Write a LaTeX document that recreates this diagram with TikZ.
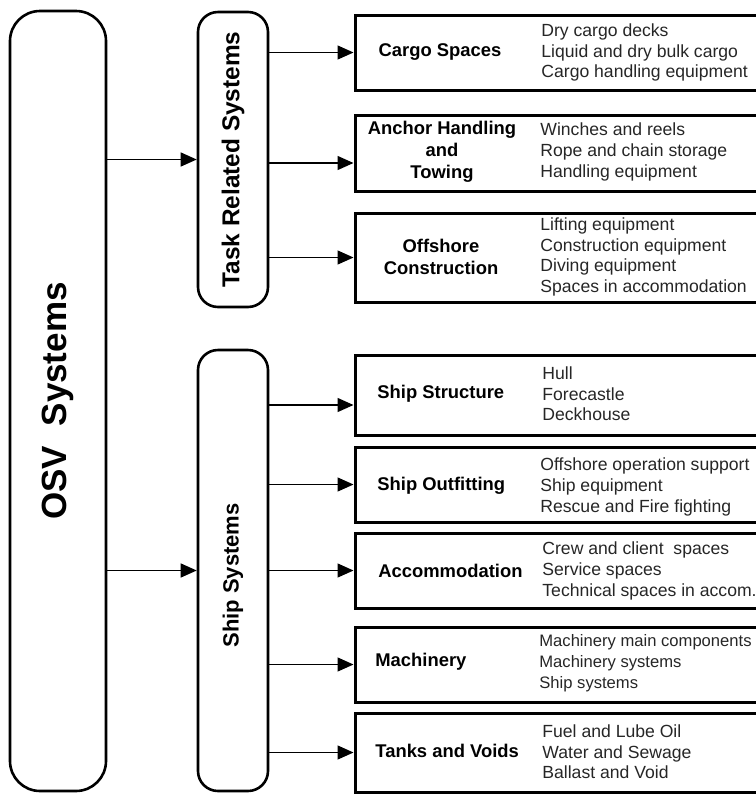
\documentclass[tikz,border=0pt]{standalone}
\usepackage{fontspec}
\setmainfont{Liberation Sans}
\usetikzlibrary{arrows.meta}

\begin{document}
\begin{tikzpicture}[x=0.5pt, y=-0.5pt,
        group/.style={draw, line width=1.3pt, rounded corners=10pt, minimum width=35pt, inner sep=0pt},
        part/.style={draw, line width=1.5pt, minimum width=207.5pt, inner sep=0pt},
        title/.style={font=\fontsize{9.2}{11}\selectfont\bfseries, align=center, inner sep=0pt},
        items/.style={font=\fontsize{8.8}{10.3}\selectfont, align=left, anchor=west, inner sep=0pt, text=black!85},
        arr/.style={-{Triangle[length=8pt, width=7pt]}, line width=0.7pt}]
        \useasboundingbox (0,0) rectangle (756,794);

        % main groups
        \node[draw, line width=1.3pt, rounded corners=15pt, minimum width=48pt, minimum height=390pt] (osv) at (58,401) {};
        \node[rotate=90, font=\fontsize{17.5}{20}\selectfont\bfseries] (osv-label) at (osv) {OSV~~Systems};
        \node[group, minimum height=147.5pt] (task) at (233,159.5) {};
        \node[rotate=90, font=\fontsize{12.2}{14}\selectfont\bfseries] (task-label) at (task) {Task Related Systems};
        \node[group, minimum height=220.5pt] (ship) at (233,570.5) {};
        \node[rotate=90, font=\fontsize{11}{13}\selectfont\bfseries] (ship-label) at ([yshift=-2.5pt]ship.center) {Ship Systems};

        % sub-system boxes
        \foreach \name/\y/\h in {cargo/52.5/37.5, anchor/153/38, offshore/257.5/44.5,
            structure/395/40, outfitting/484.5/37.5, accom/570.5/37.5, machinery/664.5/37.5, tanks/752.5/39.5}
            \node[part, minimum height=\h pt] (\name) at (562.5,\y) {};

        \node[title] (cargo-t) at (440,52.5) {Cargo Spaces};
        \node[title] (anchor-t) at (442,152) {Anchor Handling\\and\\Towing};
        \node[title] (offshore-t) at (441,257) {Offshore\\Construction};
        \node[title, anchor=west] (structure-t) at (377,394) {Ship Structure};
        \node[title, anchor=west] (outfitting-t) at (377,486) {Ship Outfitting};
        \node[title, anchor=west] (accom-t) at (378,571) {Accommodation};
        \node[title, anchor=west] (machinery-t) at (375,662) {Machinery};
        \node[title, anchor=west] (tanks-t) at (375,751) {Tanks and Voids};

        \node[items] (cargo-i) at (541,52.5) {Dry cargo decks\\Liquid and dry bulk cargo\\Cargo handling equipment};
        \node[items] (anchor-i) at (540,152) {Winches and reels\\Rope and chain storage\\Handling equipment};
        \node[items] (offshore-i) at (540,257) {Lifting equipment\\Construction equipment\\Diving equipment\\Spaces in accommodation};
        \node[items] (structure-i) at (542,394) {Hull\\Forecastle\\Deckhouse};
        \node[items] (outfitting-i) at (540,487) {Offshore operation support\\Ship equipment\\Rescue and Fire fighting};
        \node[items] (accom-i) at (542,571) {Crew and client~~spaces\\Service spaces\\Technical spaces in accom.};
        \node[items, font=\fontsize{8.3}{10.6}\selectfont] (machinery-i) at (539,663) {Machinery main components\\Machinery systems\\Ship systems};
        \node[items] (tanks-i) at (542,752) {Fuel and Lube Oil\\Water and Sewage\\Ballast and Void};

        % connectors
        \draw[arr] (osv.east |- task.west) -- (task.west);
        \draw[arr] (osv.east |- ship.west) -- (ship.west);
        \foreach \src/\name/\dy in {task/cargo/0, task/anchor/-5, task/offshore/0,
            ship/structure/-5, ship/outfitting/0, ship/accom/0, ship/machinery/0, ship/tanks/0} {
            \coordinate (\name-in) at ([yshift=\dy pt]\name.west);
            \draw[arr] (\src.east |- \name-in) -- (\name-in);
        }
\end{tikzpicture}
\end{document}
